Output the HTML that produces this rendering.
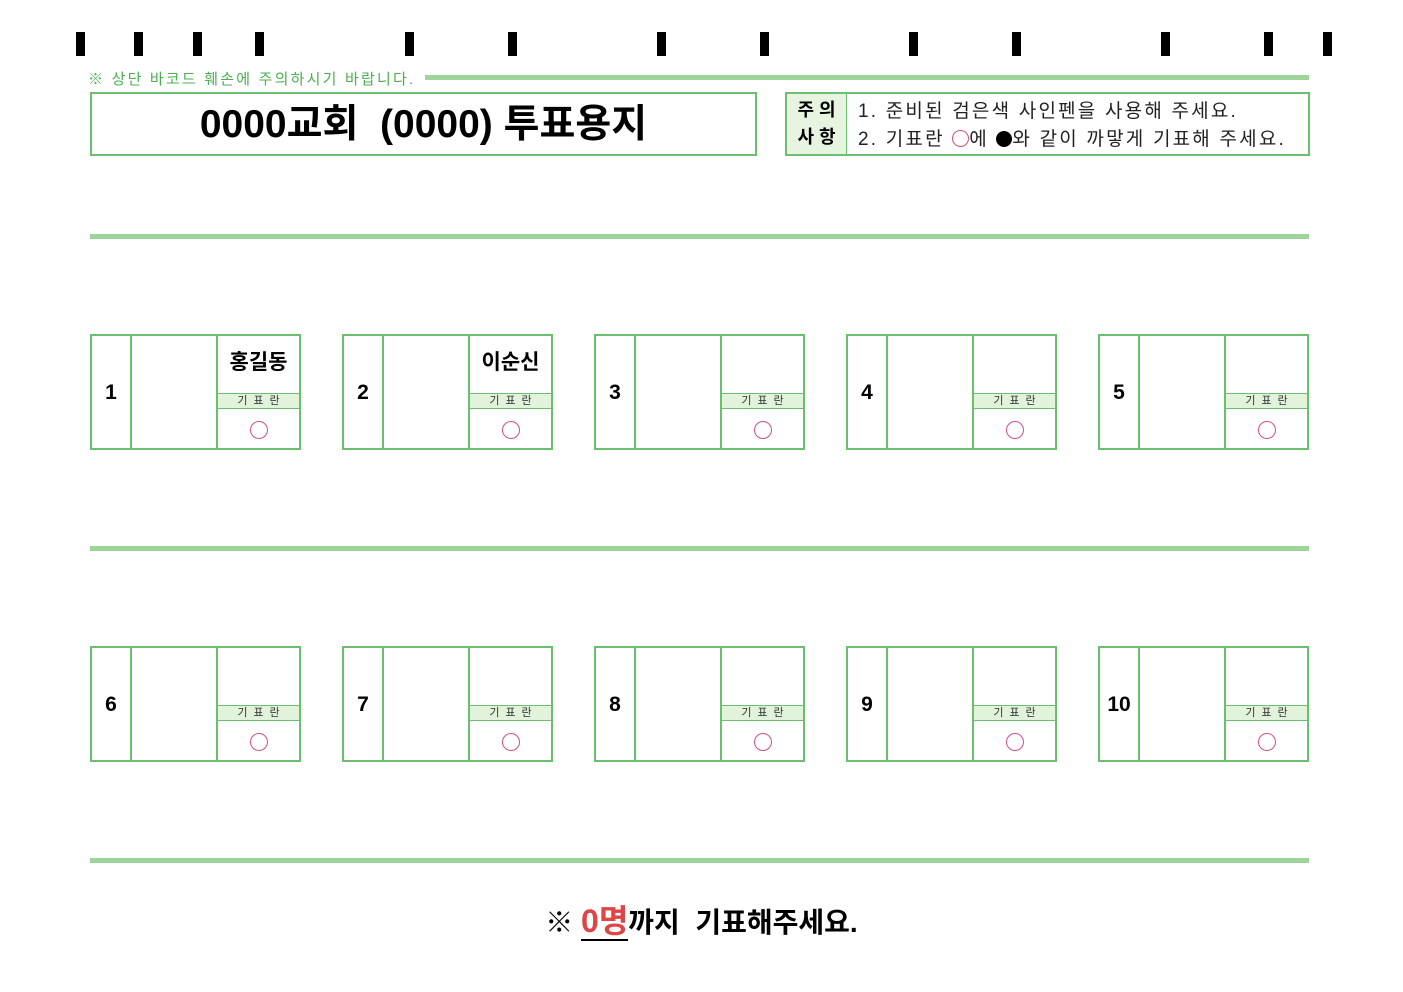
<!DOCTYPE html>
<html><head><meta charset="utf-8"><style>
body{margin:0;width:1403px;height:992px;background:#fff;position:relative;overflow:hidden;font-family:"Liberation Sans","Noto Sans CJK KR",sans-serif}
.a{position:absolute}
.bar{position:absolute;top:32px;width:9px;height:24px;background:#000}
.hl{position:absolute;left:90px;width:1219px;height:5px;background:#9dd49a}
.card{position:absolute;width:207px;height:112px;border:2px solid #6bbf6e;box-sizing:content-box}
.num{position:absolute;left:0;top:0;width:38px;height:112px;border-right:2px solid #6bbf6e;font-weight:bold;font-size:21px;text-align:center;line-height:114px}
.mid{position:absolute;left:40px;top:0;width:84px;height:112px;border-right:2px solid #6bbf6e}
.nm{position:absolute;left:126px;top:0;width:81px;height:57px;font-weight:bold;font-size:21px;text-align:center;line-height:54px}
.strip{position:absolute;left:126px;top:57px;width:81px;height:14px;background:#e2f3dc;border-top:1px solid #6bbf6e;border-bottom:1px solid #6bbf6e;font-size:11px;line-height:14px;text-align:center;color:#333;letter-spacing:6px;text-indent:6px}
.cir{position:absolute;left:158px;top:85px;width:16px;height:16px;border:1.5px solid #d0508a;border-radius:50%}
</style></head><body>
<div class="bar" style="left:76px"></div><div class="bar" style="left:134px"></div><div class="bar" style="left:193px"></div><div class="bar" style="left:255px"></div>
<div class="bar" style="left:405px"></div><div class="bar" style="left:508px"></div><div class="bar" style="left:657px"></div><div class="bar" style="left:760px"></div>
<div class="bar" style="left:909px"></div><div class="bar" style="left:1012px"></div><div class="bar" style="left:1161px"></div><div class="bar" style="left:1264px"></div><div class="bar" style="left:1323px"></div>
<div class="a" style="left:88px;top:68px;font-size:15px;color:#4caf50;white-space:nowrap;letter-spacing:2.2px">※ 상단 바코드 훼손에 주의하시기 바랍니다.</div>
<div class="a" style="left:425px;top:75px;width:884px;height:5px;background:#9dd49a"></div>
<div class="a" style="left:90px;top:92px;width:663px;height:60px;border:2px solid #6bbf6e;text-align:center;font-weight:bold;font-size:39px;line-height:62px;white-space:nowrap">0000교회 &nbsp;(0000) 투표용지</div>
<div class="a" style="left:785px;top:92px;width:521px;height:60px;border:2px solid #6bbf6e">
 <div class="a" style="left:0;top:0;width:60px;height:60px;background:#e6f4e0;border-right:1px solid #6bbf6e;font-weight:bold;font-size:18px;line-height:27px;text-align:center;padding-top:3px;box-sizing:border-box">주 의<br>사 항</div>
 <div class="a" style="left:71px;top:4px;font-size:19px;line-height:28px;white-space:nowrap;color:#222;letter-spacing:2.2px">1. 준비된 검은색 사인펜을 사용해 주세요.<br>2. 기표란 <span style="display:inline-block;width:15px;height:15px;border:1px solid #d0508a;border-radius:50%;vertical-align:-2px"></span>에 <span style="display:inline-block;width:16px;height:16px;background:#000;border-radius:50%;vertical-align:-2px"></span>와 같이 까맣게 기표해 주세요.</div>
</div>
<div class="hl" style="top:234px"></div>
<div class="hl" style="top:546px"></div>
<div class="hl" style="top:858px"></div>

<div class="card" style="left:90px;top:334px"><div class="num">1</div><div class="mid"></div><div class="nm">홍길동</div><div class="strip">기표란</div><div class="cir"></div></div>
<div class="card" style="left:342px;top:334px"><div class="num">2</div><div class="mid"></div><div class="nm">이순신</div><div class="strip">기표란</div><div class="cir"></div></div>
<div class="card" style="left:594px;top:334px"><div class="num">3</div><div class="mid"></div><div class="nm"></div><div class="strip">기표란</div><div class="cir"></div></div>
<div class="card" style="left:846px;top:334px"><div class="num">4</div><div class="mid"></div><div class="nm"></div><div class="strip">기표란</div><div class="cir"></div></div>
<div class="card" style="left:1098px;top:334px"><div class="num">5</div><div class="mid"></div><div class="nm"></div><div class="strip">기표란</div><div class="cir"></div></div>

<div class="card" style="left:90px;top:646px"><div class="num">6</div><div class="mid"></div><div class="nm"></div><div class="strip">기표란</div><div class="cir"></div></div>
<div class="card" style="left:342px;top:646px"><div class="num">7</div><div class="mid"></div><div class="nm"></div><div class="strip">기표란</div><div class="cir"></div></div>
<div class="card" style="left:594px;top:646px"><div class="num">8</div><div class="mid"></div><div class="nm"></div><div class="strip">기표란</div><div class="cir"></div></div>
<div class="card" style="left:846px;top:646px"><div class="num">9</div><div class="mid"></div><div class="nm"></div><div class="strip">기표란</div><div class="cir"></div></div>
<div class="card" style="left:1098px;top:646px"><div class="num">10</div><div class="mid"></div><div class="nm"></div><div class="strip">기표란</div><div class="cir"></div></div>

<div class="a" style="left:0;width:1403px;top:896px;text-align:center;font-weight:bold;font-size:28px;white-space:nowrap">※ <span style="color:#e04545;border-bottom:2px solid #000;font-size:32px">0명</span>까지 &nbsp;기표해주세요.</div>
</body></html>
